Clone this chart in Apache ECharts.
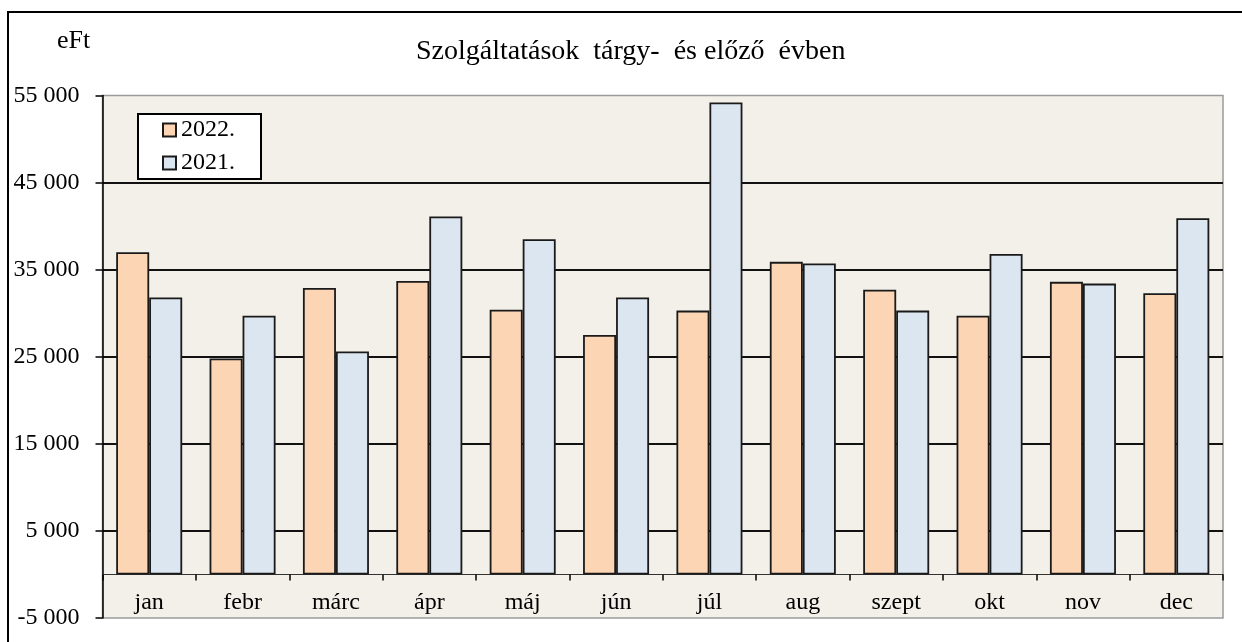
<!DOCTYPE html>
<html>
<head>
<meta charset="utf-8">
<script src="https://cdn.jsdelivr.net/npm/echarts@6/dist/echarts.min.js"></script>
<style>
html,body{margin:0;padding:0;background:#fff;}
#chart{width:1242px;height:642px;}
</style>
</head>
<body>
<div id="chart"></div>
<script>
const categories = ['jan','febr','márc','ápr','máj','jún','júl','aug','szept','okt','nov','dec'];
const values2022 = [37000, 24800, 32900, 33700, 30400, 27500, 30300, 35900, 32700, 29700, 33600, 32300];
const values2021 = [31800, 29700, 25600, 41100, 38500, 31800, 54200, 35700, 30300, 36800, 33400, 40900];
const seriesNames = ['2022.', '2021.'];
const titleText = 'Szolgáltatások  tárgy-  és előző  évben';
const unitText = 'eFt';

const FONT = '"Liberation Serif", "Times New Roman", serif';

function fmt(v) {
  const s = String(Math.abs(v)).replace(/\B(?=(\d{3})+(?!\d))/g, ' ');
  return (v < 0 ? '-' : '') + s;
}

const chart = echarts.init(document.getElementById('chart'), null, {renderer: 'canvas'});
chart.setOption({
  animation: false,
  backgroundColor: '#ffffff',
  textStyle: {fontFamily: FONT},
  graphic: [
    {type: 'rect', shape: {x: 8, y: 12, width: 1300, height: 700},
     style: {fill: 'none', stroke: '#000', lineWidth: 2}, z: 100, silent: true},
    {type: 'text', left: 57, top: 28,
     style: {text: unitText, font: '26px ' + FONT, fill: '#000'}}
  ],
  title: {
    text: titleText,
    left: 411, top: 33,
    textStyle: {fontFamily: FONT, fontSize: 28, fontWeight: 'normal', color: '#000'}
  },
  legend: {
    orient: 'vertical',
    left: 138, top: 114,
    backgroundColor: '#fff',
    borderColor: '#000',
    borderWidth: 2,
    borderRadius: 0,
    padding: [4, 26, 4, 24],
    itemGap: 9,
    itemWidth: 13,
    itemHeight: 13,
    icon: 'rect',
    textStyle: {fontFamily: FONT, fontSize: 24, color: '#000', lineHeight: 24},
    data: seriesNames
  },
  grid: {
    left: 102.5, right: 19, top: 95.5, bottom: 24,
    show: true, backgroundColor: '#F3F0E9', borderColor: '#9a9a9a', borderWidth: 1.5,
    containLabel: false,
    outerBoundsMode: 'none'
  },
  xAxis: {
    type: 'category',
    data: categories,
    axisLine: {onZero: true, lineStyle: {color: '#333', width: 1}},
    axisTick: {show: true, length: 6, lineStyle: {color: '#000', width: 1.5}},
    axisLabel: {fontFamily: FONT, fontSize: 24, color: '#000', margin: -27},
    splitLine: {show: false}
  },
  yAxis: {
    type: 'value',
    min: -5000, max: 55000, interval: 10000,
    axisLine: {show: true, lineStyle: {color: '#000', width: 1.5}},
    axisTick: {show: true, length: 7, lineStyle: {color: '#000', width: 1.5}},
    axisLabel: {fontFamily: FONT, fontSize: 24, color: '#000', margin: 23, formatter: fmt},
    splitLine: {show: true, showMinLine: false, showMaxLine: false,
                lineStyle: {color: '#111', width: 1.8}}
  },
  series: [
    {name: seriesNames[0], type: 'bar', data: values2022, barWidth: 33, barGap: '0%',
     itemStyle: {color: '#FCD5B4', borderColor: '#1a1a1a', borderWidth: 1.8}},
    {name: seriesNames[1], type: 'bar', data: values2021, barWidth: 33, barGap: '0%',
     itemStyle: {color: '#DCE6F1', borderColor: '#1a1a1a', borderWidth: 1.8}}
  ]
});
</script>
</body>
</html>
